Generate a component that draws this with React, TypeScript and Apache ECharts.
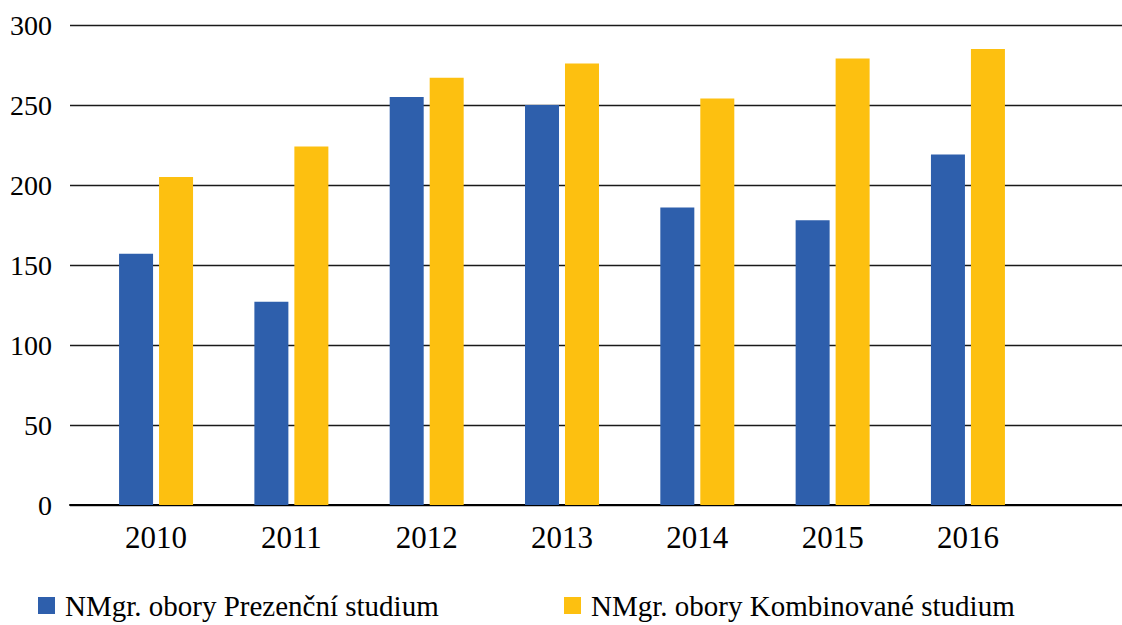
import React, { useEffect, useRef } from "react";
import * as echarts from "echarts";

const years = ["2010", "2011", "2012", "2013", "2014", "2015", "2016"];
const prezencni = [157, 127, 255, 250, 186, 178, 219];
const kombinovane = [205, 224, 267, 276, 254, 279, 285];
const seriesNames = ["NMgr. obory Prezenční studium", "NMgr. obory Kombinované studium"];
const yTicks = { min: 0, max: 300, interval: 50 };

const FONT = "'Liberation Serif', 'DejaVu Serif', serif";

export default function App() {
  const ref = useRef<HTMLDivElement>(null);
  useEffect(() => {
    if (!ref.current) return;
    const chart = echarts.init(ref.current, undefined, { renderer: "svg" });
    const legendText = { color: "#000", fontSize: 29, fontFamily: FONT, padding: [0, 0, 0, 5] };
    chart.setOption({
      animation: false,
      backgroundColor: "#ffffff",
      textStyle: { fontFamily: FONT },
      grid: [
        { left: 70, right: 0, top: 25, bottom: 120 },
        { left: 88.4, right: 86.4, top: 25, bottom: 120 },
      ],
      xAxis: [
        {
          gridIndex: 0,
          type: "value",
          min: 0,
          max: 1,
          axisLine: { show: true, onZero: false, lineStyle: { color: "#000", width: 2 } },
          axisTick: { show: false },
          axisLabel: { show: false },
          splitLine: { show: false },
        },
        {
          gridIndex: 1,
          type: "category",
          data: years,
          axisLine: { show: false },
          axisTick: { show: false },
          axisLabel: { color: "#000", fontSize: 31, fontFamily: FONT, margin: 17 },
        },
      ],
      yAxis: [
        {
          gridIndex: 0,
          type: "value",
          min: yTicks.min,
          max: yTicks.max,
          interval: yTicks.interval,
          axisLine: { show: false },
          axisTick: { show: false },
          axisLabel: { color: "#000", fontSize: 28, fontFamily: FONT, margin: 18 },
          splitLine: { show: true, lineStyle: { color: "#1a1a1a", width: 1.4 } },
        },
        {
          gridIndex: 1,
          type: "value",
          min: yTicks.min,
          max: yTicks.max,
          interval: yTicks.interval,
          show: false,
          splitLine: { show: false },
        },
      ],
      legend: [
        {
          data: [seriesNames[0]],
          left: 38,
          top: 591,
          padding: 0,
          itemWidth: 17,
          itemHeight: 17,
          icon: "rect",
          textStyle: legendText,
        },
        {
          data: [seriesNames[1]],
          left: 564,
          top: 591,
          padding: 0,
          itemWidth: 17,
          itemHeight: 17,
          icon: "rect",
          textStyle: legendText,
        },
      ],
      series: [
        {
          name: seriesNames[0],
          type: "bar",
          xAxisIndex: 1,
          yAxisIndex: 1,
          data: prezencni,
          barWidth: 34,
          barGap: "17.6%",
          itemStyle: { color: "#2E5FAC" },
        },
        {
          name: seriesNames[1],
          type: "bar",
          xAxisIndex: 1,
          yAxisIndex: 1,
          data: kombinovane,
          barWidth: 34,
          barGap: "17.6%",
          itemStyle: { color: "#FDC010" },
        },
      ],
    });
    return () => chart.dispose();
  }, []);
  return (
    <div
      ref={ref}
      style={{ position: "fixed", left: 0, top: 0, width: 1122, height: 625 }}
    />
  );
}
